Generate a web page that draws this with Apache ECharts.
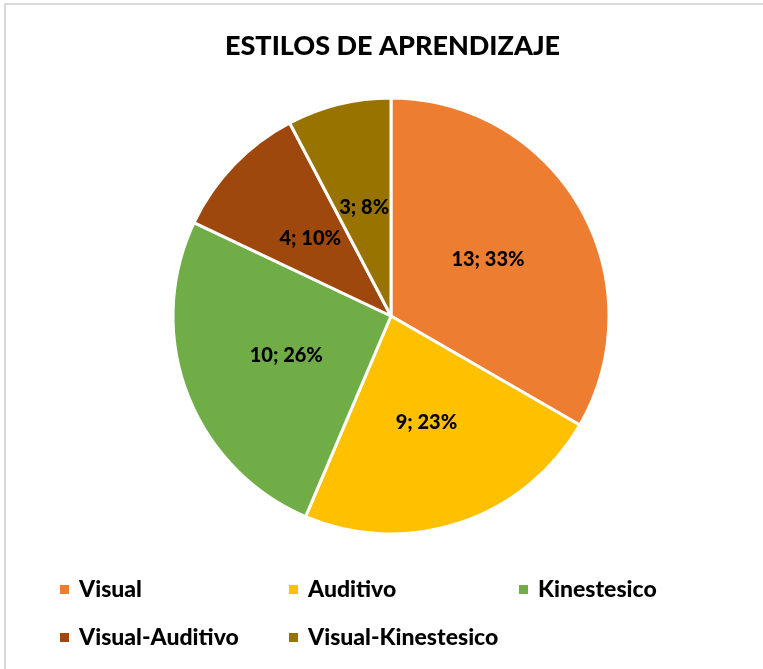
<!DOCTYPE html>
<html>
<head>
<meta charset="utf-8">
<script src="https://cdn.jsdelivr.net/npm/echarts@6/dist/echarts.min.js"></script>
<style>
  html, body { margin: 0; padding: 0; background: #fff; }
  #main { width: 763px; height: 669px; }
</style>
</head>
<body>
<div id="main"></div>
<script>
var categories = ['Visual', 'Auditivo', 'Kinestesico', 'Visual-Auditivo', 'Visual-Kinestesico'];
var values = [13, 9, 10, 4, 3];
var colors = ['#ED7D31', '#FFC000', '#70AD47', '#9E480E', '#997300'];

// legend slots: three per row, two rows
var legendLeft = [53, 282, 512, 53, 282];
var legendTop = [573, 573, 573, 621, 621];

var chart = echarts.init(document.getElementById('main'));

var pieData = categories.map(function (name, i) {
    return { name: name, value: values[i] };
});

var legends = categories.map(function (name, i) {
    return {
        data: [name],
        left: legendLeft[i],
        top: legendTop[i],
        icon: 'rect',
        itemWidth: 11,
        itemHeight: 11,
        textStyle: {
            fontFamily: 'Lato',
            fontWeight: 900,
            fontSize: 23,
            color: '#000',
            padding: [0, 0, 0, 4]
        }
    };
});

var option = {
    color: colors,
    title: {
        text: 'ESTILOS DE APRENDIZAJE',
        left: 220,
        top: 28,
        textStyle: {
            fontFamily: 'Lato',
            fontWeight: 900,
            fontSize: 27,
            color: '#000'
        }
    },
    graphic: [
        {
            type: 'rect',
            shape: { x: 5, y: 4, width: 800, height: 800 },
            style: { fill: 'none', stroke: '#d9d9d9', lineWidth: 2 },
            silent: true
        }
    ],
    legend: legends,
    series: [
        {
            type: 'pie',
            center: [391, 316],
            radius: 218,
            startAngle: 90,
            clockwise: true,
            data: pieData,
            itemStyle: {
                borderColor: '#fff',
                borderWidth: 3
            },
            label: {
                position: 'inside',
                formatter: function (p) {
                    return p.value + '; ' + Math.round(p.percent) + '%';
                },
                fontFamily: 'Lato',
                fontWeight: 900,
                fontSize: 20,
                color: '#000'
            },
            labelLine: { show: false },
            emphasis: { disabled: true }
        }
    ]
};

chart.setOption(option);
</script>
</body>
</html>
